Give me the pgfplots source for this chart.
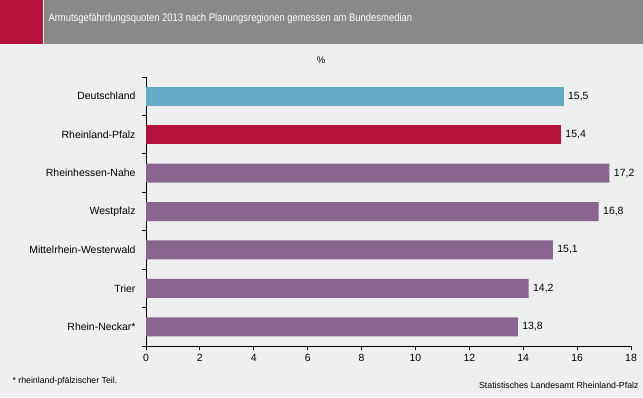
\documentclass[border=0pt]{standalone}
\usepackage{pgfplots}
\pgfplotsset{compat=1.18}
\usepackage{graphicx}
\usepackage{fontspec}
\setmainfont{Liberation Sans}
\definecolor{bgc}{RGB}{238,239,239}
\definecolor{titlegray}{RGB}{136,137,139}
\definecolor{crim}{RGB}{181,18,62}
\definecolor{blu}{RGB}{101,171,200}
\definecolor{purp}{RGB}{138,101,144}
\pgfplotstableread{
y v
0 15.5
}\tblDE
\pgfplotstableread{
y v
1 15.4
}\tblRP
\pgfplotstableread{
y v
2 17.2
3 16.8
4 15.1
5 14.2
6 13.8
}\tblReg
\begin{document}
\begin{tikzpicture}[x=1bp,y=1bp]
\fill[bgc] (0,0) rectangle (643,397);
\fill[crim] (0,353) rectangle (43,397);
\fill[white] (43,353) rectangle (44,397);
\fill[titlegray] (44,353) rectangle (643,397);
\node[anchor=west,text=white,font=\fontsize{11}{13}\selectfont] at (45,378.5) {\scalebox{0.86}[1]{Armutsgefährdungsquoten 2013 nach Planungsregionen gemessen am Bundesmedian}};
\node[font=\fontsize{9.5}{11}\selectfont] at (321,337) {\%};
\node[anchor=west,font=\fontsize{8.8}{10}\selectfont] at (9,16) {* rheinland-pfälzischer Teil.};
\node[anchor=east,font=\fontsize{8.8}{10}\selectfont] at (642,11.5) {Statistisches Landesamt Rheinland-Pfalz};
\begin{axis}[
  at={(146bp,51bp)}, anchor=south west,
  scale only axis, width=485bp, height=269bp,
  xbar, bar width=19bp, bar shift=0pt,
  xmin=0, xmax=18, ymin=-0.5, ymax=6.5,
  y dir=reverse,
  axis x line*=bottom, axis y line*=left,
  axis line style={black, line width=0.8pt},
  xtick={0,2,...,18},
  ytick={0,...,6},
  yticklabels={Deutschland,Rheinland-Pfalz,Rheinhessen-Nahe,Westpfalz,Mittelrhein-Westerwald,Trier,Rhein-Neckar*},
  minor ytick={-0.5,0.5,...,6.5},
  tick align=outside,
  major tick length=4bp,
  minor tick length=4bp,
  y tick style={draw=none},
  minor y tick style={draw=black, line width=0.8pt},
  x tick style={black, line width=0.8pt},
  tick label style={font=\fontsize{10.5}{12}\selectfont},
  xticklabel style={yshift=-1bp},
  yticklabel style={xshift=-3bp},
  /pgf/number format/assume math mode=true,
  nodes near coords,
  nodes near coords style={font=\fontsize{10.5}{12}\selectfont, anchor=west, xshift=1bp,
    /pgf/number format/.cd, fixed, fixed zerofill, precision=1, use comma},
  point meta=x,
]
\addplot[fill=blu, draw=none] table[x=v,y=y] {\tblDE};
\addplot[fill=crim, draw=none] table[x=v,y=y] {\tblRP};
\addplot[fill=purp, draw=none] table[x=v,y=y] {\tblReg};
\end{axis}
\end{tikzpicture}
\end{document}
